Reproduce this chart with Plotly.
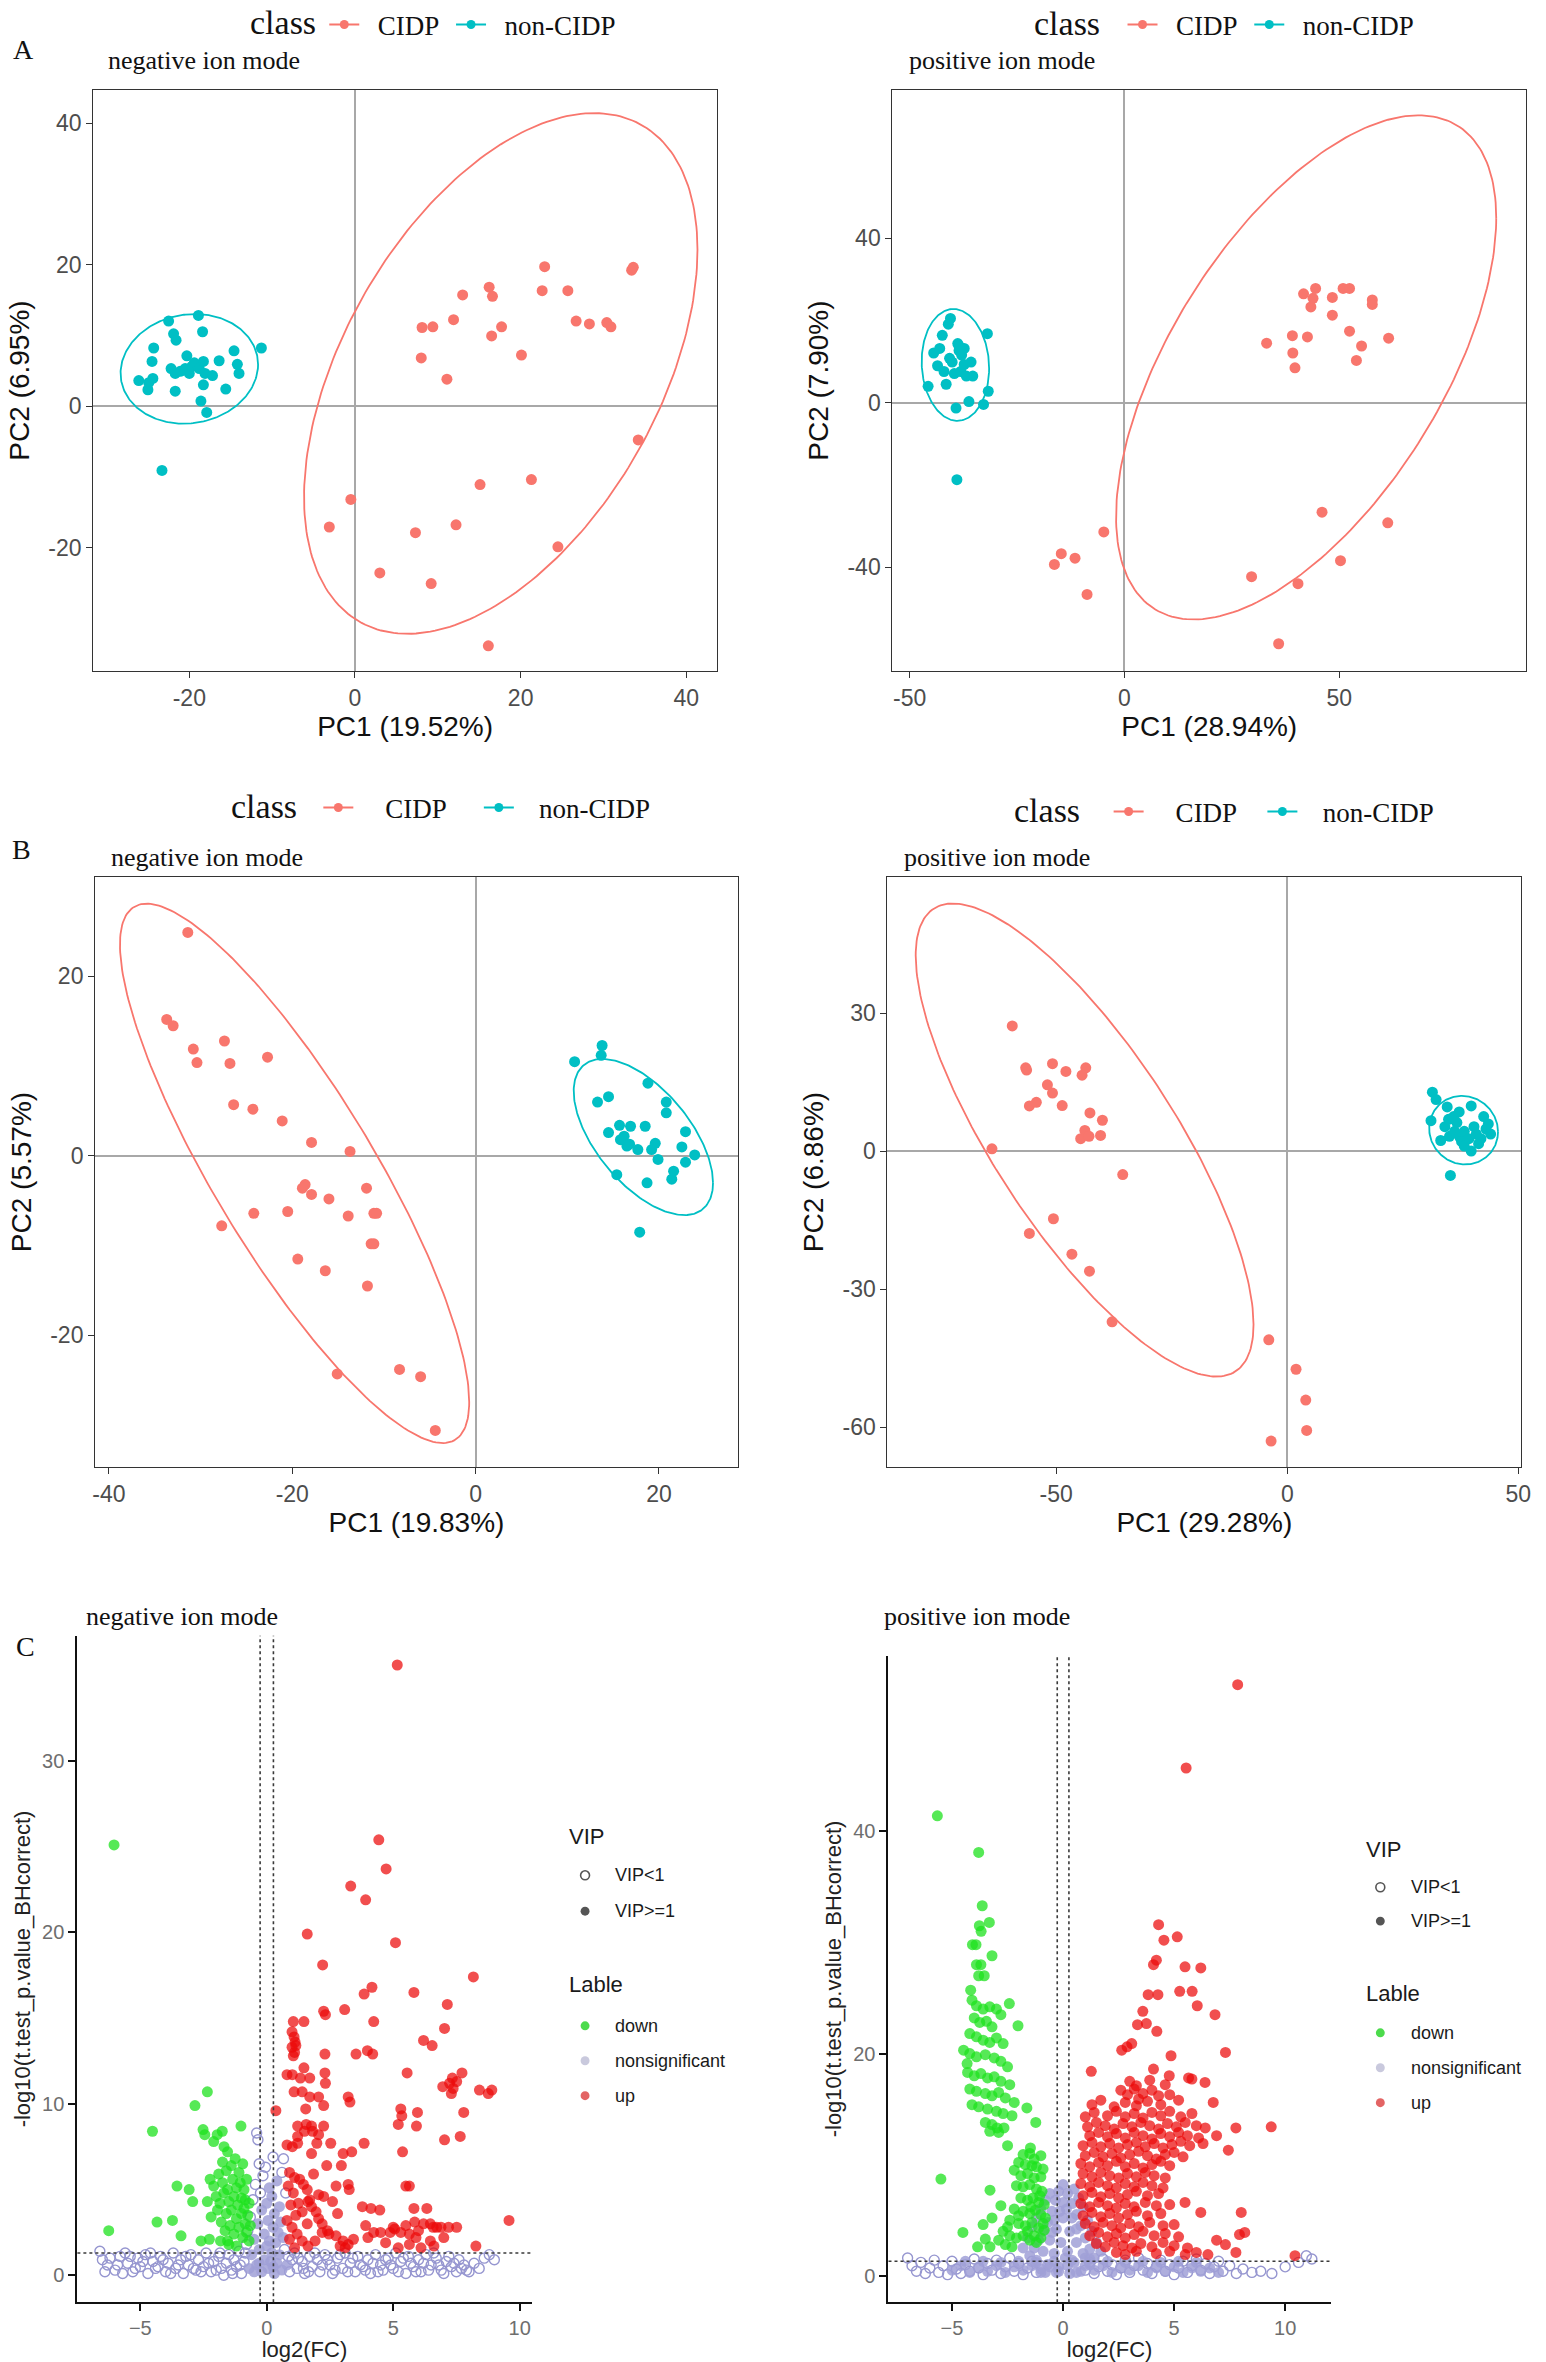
import numpy as np
import plotly.graph_objects as go

W, H = 1546, 2362

# ---------------- colours ----------------
CIDP_COL = "#F8766D"
NON_COL = "#00BFC4"
UP_COL = "rgba(236,10,10,0.72)"
DOWN_COL = "rgba(30,225,30,0.75)"
NS_COL = "rgb(150,150,208)"
NS_FILL = "rgba(160,160,215,0.85)"

CLASSES = ["CIDP", "non-CIDP"]

# ---------------- A: PCA negative ion mode ----------------
A_NEG_CIDP = [(22.9, 19.7), (33.4, 19.2), (33.6, 19.6), (16.2, 16.8), (16.6, 15.5), (13.0, 15.7), (22.6, 16.3),
              (25.7, 16.3), (11.9, 12.2), (8.1, 11.1), (9.4, 11.2), (16.5, 9.9), (17.7, 11.2), (26.7, 12.0),
              (28.3, 11.6), (30.4, 11.8), (30.9, 11.2), (8.0, 6.8), (20.1, 7.2), (11.1, 3.8), (34.2, -4.8),
              (15.1, -11.1), (21.3, -10.4), (-0.5, -13.2), (-3.1, -17.1), (7.3, -17.9), (12.2, -16.8),
              (24.5, -19.9), (3.0, -23.6), (9.2, -25.1), (16.1, -33.9)]
A_NEG_NON = [(-26.1, 3.6), (-24.9, 3.3), (-24.4, 3.9), (-25.0, 2.3), (-24.5, 6.3), (-24.3, 8.2), (-22.5, 12.0),
             (-21.9, 10.2), (-21.6, 9.3), (-22.2, 5.3), (-21.7, 4.6), (-21.7, 2.1), (-21.1, 4.9), (-20.5, 5.3),
             (-20.3, 7.1), (-20.0, 4.6), (-19.7, 5.6), (-19.4, 6.1), (-18.9, 12.8), (-18.4, 10.5), (-18.8, 5.3),
             (-18.3, 6.3), (-18.1, 4.6), (-18.3, 3.0), (-18.6, 0.7), (-17.9, -0.9), (-17.2, 4.3), (-16.4, 6.4),
             (-15.6, 2.4), (-14.6, 7.8), (-14.2, 5.9), (-14.0, 4.6), (-11.3, 8.2), (-23.3, -9.1)]
# ellipse: centre x, centre y, half-extent x, half-extent y, correlation
A_NEG_ELL = {"CIDP": (17.6, 4.6, 23.75, 36.8, 0.475), "non-CIDP": (-20.0, 5.25, 8.3, 7.75, 0.08)}

A_POS_CIDP = [(41.7, 26.5), (43.9, 25.4), (44.5, 27.8), (43.4, 23.3), (48.4, 25.6), (50.9, 27.8), (52.4, 27.8),
              (57.7, 25.0), (57.7, 23.9), (48.4, 21.3), (52.4, 17.4), (33.1, 14.5), (39.1, 16.3), (42.6, 16.0),
              (39.2, 12.1), (39.7, 8.5), (55.2, 13.8), (54.0, 10.3), (61.5, 15.7), (46.0, -26.6), (61.3, -29.2),
              (-4.8, -31.4), (-14.7, -36.7), (-11.5, -37.8), (-16.3, -39.3), (-8.7, -46.6), (29.6, -42.3),
              (40.4, -44.0), (50.3, -38.4), (35.9, -58.6)]
A_POS_NON = [(-45.7, 4.0), (-44.4, 12.1), (-43.5, 9.0), (-43.0, 13.2), (-42.4, 16.4), (-42.0, 7.6), (-41.5, 4.5),
             (-41.0, 19.1), (-40.5, 20.5), (-40.7, 10.8), (-40.1, 9.9), (-39.6, 7.1), (-39.2, -1.3), (-38.8, 14.4),
             (-38.5, 12.7), (-38.1, 7.6), (-37.9, 11.6), (-37.3, 9.3), (-36.8, 6.5), (-36.2, 0.3), (-35.7, 9.9),
             (-35.3, 6.5), (-32.8, -0.4), (-31.9, 16.8), (-31.7, 2.8), (-39.0, -18.7), (-38.5, 13.8), (-37.3, 13.2)]
A_POS_ELL = {"CIDP": (42.3, 8.6, 44.25, 61.3, 0.592), "non-CIDP": (-39.35, 9.2, 7.85, 13.6, -0.06)}

# ---------------- B: PCA ----------------
B_NEG_CIDP = [(-31.4, 24.9), (-33.7, 15.2), (-33.0, 14.5), (-30.8, 11.9), (-30.4, 10.4), (-27.4, 12.8), (-26.8, 10.3),
              (-22.7, 11.0), (-26.4, 5.7), (-24.3, 5.2), (-21.1, 3.9), (-17.9, 1.5), (-13.7, 0.5), (-18.6, -3.2),
              (-18.9, -3.6), (-17.9, -4.3), (-16.0, -4.8), (-11.9, -3.6), (-24.2, -6.4), (-20.5, -6.2), (-13.9, -6.7),
              (-11.1, -6.4), (-10.8, -6.4), (-27.7, -7.8), (-11.4, -9.8), (-11.1, -9.8), (-19.4, -11.5),
              (-16.4, -12.8), (-11.8, -14.5), (-15.1, -24.3), (-8.3, -23.8), (-6.0, -24.6), (-4.4, -30.6)]
B_NEG_NON = [(10.8, 10.5), (13.8, 12.3), (13.7, 11.2), (13.3, 6.0), (14.5, 6.6), (18.8, 8.1), (20.8, 6.0), (20.8, 4.8),
             (14.5, 2.6), (15.7, 3.4), (16.2, 2.2), (16.5, 1.1), (16.9, 3.3), (17.7, 0.7), (18.5, 3.3), (19.2, 0.7),
             (19.6, 1.4), (19.9, -0.4), (22.9, 2.7), (22.5, 1.0), (22.9, -0.7), (23.9, 0.1), (21.6, -1.7),
             (21.4, -2.6), (15.4, -2.1), (18.7, -3.0), (17.9, -8.5), (16.8, 1.3), (15.8, 1.8)]
B_NEG_ELL = {"CIDP": (-19.75, -1.95, 19.05, 30.05, -0.848), "non-CIDP": (18.3, 2.1, 7.6, 8.7, -0.587)}

B_POS_CIDP = [(-59.5, 27.2), (-56.6, 18.1), (-56.4, 17.6), (-50.8, 19.0), (-47.9, 17.3), (-43.6, 18.1), (-44.4, 16.5),
              (-51.9, 14.4), (-50.8, 12.6), (-55.8, 9.8), (-54.3, 10.6), (-48.7, 9.9), (-42.7, 8.3), (-40.0, 6.7),
              (-43.8, 4.5), (-44.7, 2.7), (-42.9, 3.2), (-40.4, 3.4), (-63.9, 0.5), (-35.6, -5.1), (-50.6, -14.7),
              (-55.8, -17.9), (-46.6, -22.4), (-42.8, -26.1), (-37.9, -37.1), (-4.0, -41.0), (1.9, -47.4),
              (4.0, -54.1), (4.2, -60.7), (-3.5, -63.0)]
B_POS_NON = [(31.4, 12.8), (32.2, 11.2), (31.1, 6.6), (35.3, -5.3), (39.8, 9.8), (34.1, 5.3), (35.1, 3.2), (36.2, 4.3),
             (37.2, 3.2), (38.3, 4.3), (37.7, 2.1), (36.7, 6.2), (39.3, 2.7), (40.4, 5.3), (40.9, 3.7), (39.8, 0.0),
             (41.9, 2.7), (43.0, 4.8), (44.0, 3.7), (42.5, 7.5), (34.9, 6.9), (36.0, 7.5), (33.2, 2.3), (38.3, 1.1),
             (41.4, 1.6), (34.6, 9.6), (37.2, 8.5), (43.5, 5.9)]
B_POS_ELL = {"CIDP": (-43.85, 2.4, 36.55, 51.4, -0.78), "non-CIDP": (38.15, 4.55, 7.45, 7.45, -0.05)}

# ---------------- C: volcano, negative ion mode ----------------
C_NEG_DOWN = [(-6.04, 25.1), (-6.25, 2.6), (-4.52, 8.4), (-4.34, 3.1), (-3.73, 3.2), (-3.55, 5.2), (-3.39, 2.3),
              (-3.07, 5.0), (-2.93, 4.3), (-2.84, 9.9), (-2.52, 8.5), (-2.45, 8.2), (-2.35, 10.7), (-2.27, 2.1),
              (-2.35, 4.3), (-2.24, 5.6), (-1.96, 8.2), (-1.76, 8.4), (-1.69, 7.5), (-1.83, 2.0), (-1.55, 2.0),
              (-1.02, 8.7), (-2.6, 2.0), (-2.1, 7.8), (-2.1, 5.2), (-2.0, 4.6), (-1.95, 3.8), (-1.9, 5.9),
              (-1.85, 4.2), (-1.8, 3.1), (-1.75, 5.4), (-1.7, 4.8), (-1.65, 2.6), (-1.6, 6.1), (-1.6, 3.6),
              (-1.55, 5.0), (-1.5, 4.3), (-1.45, 2.9), (-1.4, 6.4), (-1.4, 3.8), (-1.35, 5.6), (-1.3, 4.6),
              (-1.3, 2.4), (-1.25, 6.8), (-1.2, 5.1), (-1.2, 3.3), (-1.15, 4.1), (-1.1, 6.0), (-1.1, 2.8),
              (-1.05, 5.4), (-1.0, 4.5), (-1.0, 3.6), (-0.95, 6.5), (-0.95, 2.2), (-0.9, 5.0), (-0.9, 3.9),
              (-0.85, 4.4), (-0.85, 3.0), (-0.8, 5.6), (-0.8, 2.5), (-0.75, 3.5), (-0.7, 4.2), (-0.7, 2.0),
              (-0.65, 2.9), (-1.5, 1.8), (-1.2, 1.7), (-2.2, 3.4), (-1.75, 6.6), (-1.55, 7.2)]
C_NEG_UP = [(5.16, 35.6), (4.43, 25.4), (4.72, 23.7), (3.32, 22.7), (3.91, 21.9), (1.60, 19.9), (5.09, 19.4),
            (2.21, 18.1), (8.17, 17.4), (4.16, 16.8), (3.85, 16.4), (5.82, 16.5), (2.25, 15.4), (2.32, 15.2),
            (3.08, 15.5), (7.14, 15.8), (4.23, 14.8), (7.03, 14.4), (1.05, 14.8), (1.47, 14.8), (1.0, 14.2),
            (1.08, 13.9), (1.12, 13.6), (1.0, 13.3), (1.1, 13.0), (1.05, 12.8), (1.15, 13.4), (6.2, 13.7),
            (6.54, 13.4), (3.53, 12.9), (3.98, 13.1), (4.19, 12.9), (2.3, 12.9), (1.47, 12.1), (0.8, 11.7),
            (1.01, 11.7), (1.33, 11.5), (1.70, 11.5), (2.3, 11.8), (2.32, 11.2), (5.55, 11.8), (7.34, 11.5),
            (7.72, 11.8), (6.96, 11.0), (7.23, 11.2), (7.37, 10.9), (7.51, 11.3), (7.3, 10.6), (8.41, 10.8),
            (8.76, 10.6), (8.9, 10.8), (1.08, 10.7), (1.4, 10.7), (1.7, 10.4), (2.05, 10.4), (1.54, 9.7),
            (2.25, 9.9), (3.22, 10.4), (3.29, 10.1), (0.36, 9.6), (5.3, 9.7), (5.34, 9.3), (5.2, 8.8), (5.96, 9.5),
            (7.79, 9.5), (7.65, 8.1), (7.03, 7.9), (1.22, 8.7), (1.56, 8.8), (1.77, 8.7), (1.49, 8.4), (1.81, 8.4),
            (1.22, 8.1), (2.05, 8.2), (2.25, 8.7), (2.53, 7.7), (3.02, 7.1), (3.36, 7.2), (3.85, 7.7), (5.37, 7.2),
            (5.92, 8.7), (0.8, 7.6), (1.01, 7.5), (1.22, 7.7), (1.77, 7.1), (1.98, 7.7), (2.37, 6.4), (2.95, 6.4),
            (5.5, 5.2), (5.64, 5.2), (3.22, 5.3), (3.26, 5.0), (2.74, 5.2), (2.05, 4.7), (2.25, 4.6), (0.9, 6.0),
            (1.1, 5.7), (1.3, 5.6), (1.45, 5.3), (1.6, 5.0), (0.85, 5.2), (1.05, 4.8), (1.25, 4.2), (1.4, 3.7),
            (0.95, 4.1), (1.15, 3.5), (0.8, 3.2), (1.0, 2.8), (1.2, 2.4), (1.6, 3.0), (1.7, 4.4), (1.85, 5.9),
            (1.95, 3.7), (2.05, 3.3), (2.19, 3.0), (1.63, 4.3), (1.77, 4.0), (2.4, 2.6), (2.6, 4.3), (2.8, 3.6),
            (3.78, 4.0), (4.12, 3.9), (4.47, 3.8), (5.82, 3.9), (6.33, 3.9), (5.85, 3.1), (6.2, 3.0), (6.47, 3.0),
            (6.58, 2.8), (6.72, 2.8), (6.89, 2.8), (7.19, 2.8), (7.51, 2.8), (9.58, 3.2), (8.27, 1.7), (3.91, 2.9),
            (4.23, 2.5), (4.5, 2.5), (4.88, 2.5), (5.06, 2.7), (5.3, 2.5), (5.64, 2.4), (5.64, 1.8), (6.47, 2.0),
            (6.61, 1.7), (3.02, 2.0), (3.22, 1.8), (3.43, 2.1), (2.74, 2.3), (2.19, 2.5), (2.46, 2.4), (1.63, 1.7),
            (1.91, 2.0), (5.0, 2.8), (5.5, 2.9), (6.0, 2.6), (4.0, 2.2), (3.1, 1.6), (2.9, 1.7), (5.9, 2.2),
            (6.1, 1.6), (7.0, 2.2), (5.2, 1.6), (4.7, 1.9), (1.4, 2.0), (0.9, 2.1), (1.1, 1.6)]
C_NEG_NS_OPEN = [(-6.6, 1.4), (-6.5, 0.9), (-6.3, 0.6), (-6.0, 0.3), (-5.8, 1.1), (-5.6, 1.3), (-5.5, 0.7),
                 (-5.3, 0.2), (-5.1, 1.0), (-5.0, 0.5), (-4.8, 1.2), (-4.7, 0.1), (-4.5, 0.8), (-4.4, 0.4),
                 (-4.2, 1.1), (-4.0, 0.2), (-3.9, 0.7), (-3.7, 1.3), (-3.6, 0.4), (-3.4, 0.9), (-3.3, 0.1),
                 (-3.1, 0.6), (-3.0, 1.2), (-2.8, 0.3), (-2.7, 0.9), (-2.5, 0.5), (-2.4, 1.3), (-2.2, 0.2),
                 (-2.1, 0.8), (-1.9, 1.1), (-1.8, 0.4), (-1.7, 0.0), (-1.6, 0.7), (-1.5, 1.2), (-1.4, 0.3),
                 (-1.3, 0.9), (-1.2, 0.5), (-1.1, 1.4), (-1.0, 0.1), (-0.9, 0.8), (-0.8, 1.8), (-0.75, 2.6),
                 (-0.65, 3.4), (-0.55, 4.4), (-0.45, 5.3), (-0.4, 8.3), (-0.35, 7.9), (-0.3, 6.5), (-0.25, 4.8),
                 (-0.15, 5.8), (-0.05, 6.3), (0.25, 6.9), (0.6, 6.0), (0.66, 6.8), (0.75, 4.8), (0.7, 1.5),
                 (0.85, 1.1), (0.9, 0.2), (1.0, 0.9), (1.1, 1.3), (1.2, 0.4), (1.4, 0.8), (1.5, 0.1), (1.7, 1.1),
                 (1.8, 0.5), (2.0, 0.9), (2.1, 0.2), (2.3, 1.2), (2.5, 0.6), (2.6, 0.1), (2.8, 1.0), (3.0, 0.4),
                 (3.1, 1.3), (3.3, 0.7), (3.5, 0.2), (3.6, 1.1), (3.8, 0.5), (4.0, 0.9), (4.1, 0.1), (4.3, 1.2),
                 (4.5, 0.6), (4.6, 0.3), (4.8, 1.0), (5.0, 0.4), (5.1, 1.3), (5.3, 0.8), (5.5, 0.1), (5.6, 1.1),
                 (5.8, 0.5), (6.0, 0.9), (6.1, 0.2), (6.3, 1.2), (6.5, 0.6), (6.7, 1.0), (6.9, 0.3), (7.1, 0.8),
                 (7.3, 0.5), (7.5, 0.2), (7.7, 0.4), (7.9, 0.3), (8.2, 0.7), (8.6, 1.0), (8.8, 1.2),
                 (-6.4, 0.2), (-6.2, 1.0), (-5.9, 0.6), (-5.7, 0.1), (-5.4, 1.1), (-5.2, 0.4), (-4.9, 0.8),
                 (-4.6, 1.3), (-4.3, 0.5), (-4.1, 0.9), (-3.8, 0.1), (-3.5, 0.6), (-3.2, 1.1), (-2.9, 0.4),
                 (-2.6, 0.2), (-2.3, 0.7), (-2.0, 0.3), (-1.85, 1.3), (-1.35, 0.1), (-1.05, 0.6), (-0.85, 1.3),
                 (1.25, 1.0), (1.45, 0.4), (1.65, 0.2), (1.9, 1.3), (2.2, 0.6), (2.4, 0.9), (2.7, 0.3), (2.9, 1.2),
                 (3.2, 0.2), (3.4, 1.0), (3.7, 0.6), (3.9, 0.3), (4.2, 0.7), (4.4, 0.2), (4.7, 0.9), (4.9, 0.6),
                 (5.2, 0.2), (5.4, 1.0), (5.7, 0.7), (5.9, 0.2), (6.2, 0.7), (6.4, 0.3), (6.6, 1.3), (6.8, 0.6),
                 (7.0, 0.1), (7.2, 1.1), (7.4, 0.7), (7.6, 0.9), (7.8, 0.6), (8.0, 0.2), (8.4, 0.4), (9.0, 0.9)]
C_NEG_NS_FILL = [(-0.7, 0.4), (-0.6, 1.2), (-0.5, 2.1), (-0.4, 0.6), (-0.35, 3.0), (-0.3, 1.5), (-0.2, 0.2),
                 (-0.2, 3.8), (-0.1, 2.4), (-0.1, 0.9), (0.0, 1.7), (0.0, 4.2), (0.05, 0.4), (0.05, 3.2), (0.1, 5.1),
                 (0.1, 2.0), (0.15, 0.8), (0.2, 4.6), (0.2, 1.3), (0.25, 2.8), (0.3, 0.1), (0.3, 3.6), (0.35, 1.9),
                 (0.4, 5.5), (0.4, 0.7), (0.45, 2.5), (0.5, 4.0), (0.5, 1.2), (0.55, 3.1), (0.6, 0.3), (0.65, 2.2),
                 (0.8, 0.6), (-0.5, 0.2), (-0.3, 0.7), (0.25, 0.5)]

# ---------------- C: volcano, positive ion mode ----------------
C_POS_DOWN = [(-5.66, 41.4), (-3.80, 38.1), (-3.64, 33.3), (-3.32, 31.8), (-3.77, 31.5), (-3.69, 31.0), (-4.08, 29.8),
              (-3.92, 29.8), (-3.2, 28.8), (-3.9, 28.0), (-3.7, 28.0), (-3.8, 27.0), (-3.55, 27.0), (-4.16, 25.7),
              (-2.42, 24.5), (-4.1, 24.8), (-3.9, 24.3), (-3.6, 24.0), (-3.3, 24.2), (-3.0, 24.0), (-2.8, 23.5),
              (-4.0, 23.2), (-3.75, 22.8), (-3.45, 22.9), (-3.2, 22.4), (-2.03, 22.5), (-4.2, 21.8), (-3.9, 21.5),
              (-3.6, 21.2), (-3.3, 21.0), (-3.0, 21.4), (-2.7, 20.9), (-4.48, 20.3), (-4.2, 20.0), (-3.9, 19.7),
              (-3.5, 19.9), (-3.1, 19.6), (-2.8, 19.3), (-2.5, 18.8), (-4.32, 19.1), (-4.3, 18.3), (-4.0, 18.0),
              (-3.7, 18.2), (-3.4, 17.8), (-3.1, 17.9), (-2.8, 17.5), (-2.4, 17.2), (-4.2, 16.8), (-3.9, 16.6),
              (-3.5, 16.4), (-3.2, 16.2), (-2.9, 16.5), (-2.6, 16.0), (-2.2, 15.6), (-4.1, 15.4), (-3.8, 15.2),
              (-3.4, 15.0), (-3.0, 14.8), (-2.7, 14.6), (-2.3, 14.4), (-1.63, 15.1), (-3.5, 13.8), (-3.2, 13.6),
              (-2.97, 13.3), (-2.66, 13.3), (-2.9, 12.9), (-3.3, 13.0), (-1.23, 13.8), (-2.5, 11.7), (-1.47, 11.5),
              (-5.5, 8.7), (-4.51, 3.9), (-3.85, 2.6), (-3.29, 2.6), (-3.29, 7.7), (-2.0, 10.2), (-1.7, 10.0),
              (-1.4, 9.9), (-1.2, 9.8), (-1.9, 9.0), (-1.6, 9.2), (-1.3, 8.8), (-1.0, 8.9), (-2.1, 8.1), (-1.8, 8.0),
              (-1.5, 8.2), (-1.2, 7.8), (-0.95, 7.6), (-1.9, 7.0), (-1.6, 6.8), (-1.35, 7.0), (-1.1, 6.6),
              (-0.85, 6.4), (-2.2, 6.0), (-1.8, 5.8), (-1.5, 5.6), (-1.25, 5.9), (-1.0, 5.5), (-0.8, 5.2),
              (-2.4, 5.0), (-2.0, 4.7), (-1.7, 4.5), (-1.4, 4.8), (-1.1, 4.3), (-0.85, 4.1), (-2.7, 4.0),
              (-2.4, 3.6), (-2.1, 3.4), (-1.8, 3.6), (-1.5, 3.2), (-1.2, 3.0), (-2.9, 3.2), (-3.6, 4.6), (-3.2, 5.2),
              (-2.8, 6.3), (-3.5, 3.3), (-2.6, 2.8), (-2.3, 2.6), (-1.3, 10.5), (-1.0, 10.8), (-1.5, 11.0),
              (-1.8, 10.9), (-0.9, 9.6), (-2.2, 9.5), (-1.05, 7.2), (-1.45, 6.2), (-2.0, 5.4), (-1.6, 4.0),
              (-1.3, 3.6), (-1.0, 3.4), (-0.9, 4.7), (-2.5, 4.4)]
C_POS_UP = [(7.86, 53.2), (5.54, 45.7), (4.30, 31.6), (5.14, 30.5), (4.54, 30.2), (5.49, 27.8), (6.2, 27.7),
            (4.07, 28.0), (4.2, 28.4), (3.83, 25.3), (4.27, 25.3), (5.25, 25.6), (5.81, 25.6), (6.04, 24.3),
            (3.59, 23.8), (3.35, 22.6), (3.75, 22.7), (4.22, 22.0), (6.84, 23.5), (2.64, 20.3), (2.88, 20.6),
            (3.09, 20.9), (4.86, 19.8), (7.31, 20.1), (1.27, 18.4), (4.07, 18.6), (4.78, 18.0), (5.65, 17.8),
            (5.8, 17.7), (6.39, 17.4), (6.76, 15.6), (7.78, 13.3), (9.37, 13.4), (7.44, 11.3), (6.91, 12.6),
            (5.49, 6.6), (6.2, 5.7), (8.02, 5.7), (6.91, 3.2), (7.31, 2.8), (7.94, 3.7), (8.18, 3.9), (7.78, 2.1),
            (10.44, 1.8), (6.52, 1.9),
            (3.0, 17.5), (3.3, 17.1), (3.9, 17.6), (4.6, 17.2), (2.6, 16.7), (2.9, 16.3), (3.2, 16.8), (3.6, 16.4),
            (4.0, 16.7), (4.3, 16.2), (3.4, 15.9), (1.3, 15.4), (1.7, 15.8), (2.3, 15.2), (2.8, 15.6), (3.3, 15.3),
            (3.8, 15.7), (4.4, 15.4), (5.2, 15.8), (4.8, 16.3), (1.0, 14.3), (1.4, 14.7), (2.0, 14.4), (2.4, 14.8),
            (2.8, 14.3), (3.2, 14.6), (3.6, 14.2), (4.0, 14.7), (4.4, 14.4), (4.8, 14.8), (5.3, 14.3), (5.8, 14.6),
            (1.1, 13.4), (1.5, 13.8), (1.9, 13.5), (2.3, 13.2), (2.7, 13.7), (3.1, 13.4), (3.5, 13.8), (3.9, 13.5),
            (4.3, 13.2), (4.7, 13.7), (5.1, 13.4), (5.5, 13.8), (6.0, 13.5), (6.4, 13.3), (1.2, 12.6), (1.6, 12.9),
            (2.0, 12.5), (2.4, 12.8), (2.8, 12.4), (3.2, 12.9), (3.6, 12.6), (4.0, 12.3), (4.4, 12.8), (4.8, 12.5),
            (5.2, 12.9), (5.6, 12.6), (6.1, 12.4), (0.9, 11.7), (1.3, 12.0), (1.7, 11.6), (2.1, 11.9), (2.5, 11.5),
            (2.9, 11.8), (3.3, 12.0), (3.7, 11.6), (4.1, 11.9), (4.5, 11.5), (4.9, 11.8), (5.3, 12.1), (5.7, 11.7),
            (6.3, 11.9), (1.0, 10.8), (1.4, 11.1), (1.8, 10.7), (2.2, 11.0), (2.6, 10.6), (3.0, 10.9), (3.4, 11.2),
            (3.8, 10.8), (4.2, 10.5), (4.6, 10.9), (5.0, 11.1), (5.4, 10.7), (0.8, 10.1), (1.2, 9.8), (1.6, 10.2),
            (2.0, 9.9), (2.4, 10.3), (2.8, 9.8), (3.2, 10.1), (3.6, 9.7), (4.0, 10.0), (4.4, 10.3), (4.8, 9.9),
            (0.9, 9.2), (1.3, 8.9), (1.7, 9.3), (2.1, 9.0), (2.5, 8.8), (2.9, 9.2), (3.3, 8.9), (3.7, 9.3),
            (4.1, 9.0), (4.6, 8.8), (0.8, 8.3), (1.2, 8.0), (1.6, 8.4), (2.0, 8.1), (2.4, 7.9), (2.8, 8.3),
            (3.2, 8.0), (3.6, 8.4), (4.0, 8.1), (4.5, 7.9), (0.9, 7.2), (1.3, 7.5), (1.7, 7.1), (2.1, 7.4),
            (2.5, 7.0), (2.9, 7.3), (3.3, 7.6), (3.8, 7.2), (4.3, 7.4), (0.8, 6.5), (1.2, 6.2), (1.6, 6.6),
            (2.0, 6.3), (2.4, 6.1), (2.8, 6.5), (3.2, 6.2), (3.7, 6.6), (4.2, 6.3), (4.8, 6.4), (0.9, 5.4),
            (1.3, 5.7), (1.7, 5.3), (2.1, 5.6), (2.5, 5.2), (2.9, 5.5), (3.3, 5.8), (3.8, 5.4), (4.4, 5.6),
            (1.0, 4.7), (1.4, 4.4), (1.8, 4.8), (2.2, 4.5), (2.6, 4.3), (3.0, 4.7), (3.4, 4.4), (3.9, 4.8),
            (4.5, 4.5), (5.0, 4.6), (1.2, 3.6), (1.6, 3.9), (2.0, 3.5), (2.4, 3.8), (2.8, 3.4), (3.2, 3.7),
            (3.6, 4.0), (4.1, 3.6), (4.6, 3.8), (5.2, 3.5), (1.5, 2.9), (1.9, 2.6), (2.3, 3.0), (2.7, 2.7),
            (3.1, 2.5), (3.5, 2.9), (4.0, 2.6), (4.5, 3.0), (5.0, 2.7), (5.6, 2.5), (2.4, 2.1), (2.8, 1.9),
            (3.3, 2.2), (4.2, 2.0), (4.8, 2.2), (5.5, 1.9), (6.0, 2.1)]
C_POS_NS_OPEN = [(-7.0, 1.6), (-6.8, 0.9), (-6.6, 0.4), (-6.4, 1.2), (-6.2, 0.2), (-6.0, 0.7), (-5.8, 1.4),
                 (-5.6, 0.3), (-5.4, 0.9), (-5.2, 0.1), (-5.0, 1.3), (-4.8, 0.6), (-4.6, 0.2), (-4.4, 1.0),
                 (-4.2, 0.4), (-4.0, 1.5), (-3.8, 0.7), (-3.6, 0.1), (-3.4, 1.1), (-3.2, 0.5), (-3.0, 1.4),
                 (-2.8, 0.2), (-2.6, 0.8), (-2.4, 1.6), (-2.2, 0.4), (-2.0, 1.1), (-1.8, 0.1), (-1.6, 0.7),
                 (-1.4, 1.3), (-1.2, 0.3), (-1.0, 0.9), (1.0, 0.5), (1.2, 1.2), (1.4, 0.2), (1.6, 0.8), (1.8, 1.5),
                 (2.0, 0.4), (2.2, 1.0), (2.4, 0.1), (2.6, 0.7), (2.8, 1.4), (3.0, 0.3), (3.2, 0.9), (3.4, 1.6),
                 (3.6, 0.5), (3.8, 1.1), (4.0, 0.2), (4.2, 0.8), (4.4, 1.4), (4.6, 0.4), (4.8, 1.0), (5.0, 0.1),
                 (5.2, 0.7), (5.4, 1.3), (5.6, 0.3), (5.8, 0.9), (6.0, 1.5), (6.2, 0.5), (6.4, 1.1), (6.6, 0.2),
                 (6.8, 0.8), (7.0, 1.3), (7.2, 0.4), (7.5, 0.9), (7.8, 0.2), (8.1, 0.6), (8.5, 0.3), (8.9, 0.4),
                 (9.4, 0.2), (10.0, 0.8), (10.6, 1.2), (10.95, 1.8), (11.2, 1.5)]
C_POS_NS_FILL = [(-1.5, 1.8), (-1.3, 2.5), (-1.1, 3.2), (-0.9, 4.0), (-0.7, 4.8), (-0.5, 5.8), (-0.35, 6.8),
                 (-0.2, 7.6), (0.0, 8.2), (0.2, 7.4), (0.4, 6.5), (0.6, 5.5), (0.8, 4.5), (1.0, 3.4), (1.2, 2.4),
                 (1.4, 1.6), (-1.2, 1.2), (-0.9, 2.2), (-0.6, 3.2), (-0.3, 4.2), (0.0, 5.2), (0.3, 4.0), (0.6, 3.0),
                 (0.9, 2.0), (1.2, 1.0), (-0.7, 1.0), (-0.4, 2.0), (-0.1, 3.0), (0.2, 2.2), (0.5, 1.2), (-0.2, 0.8),
                 (0.1, 1.6), (0.0, 6.6), (-0.4, 5.0), (0.4, 5.2), (-0.8, 0.3), (0.8, 0.4), (0.3, 0.2), (-0.3, 0.3),
                 (-1.0, 0.6), (1.0, 1.6), (-0.5, 3.9), (0.6, 4.2), (-0.15, 5.8), (0.15, 6.0),
                 (-5.0, 0.5), (-4.6, 0.9), (-4.2, 0.3), (-3.8, 0.8), (-3.4, 0.4), (-3.0, 0.9), (-2.6, 0.3),
                 (-2.2, 0.8), (-1.8, 0.5), (-1.4, 0.9), (-1.0, 0.3), (-0.6, 0.8), (-0.2, 0.4), (0.2, 0.9), (0.6, 0.3),
                 (1.0, 0.9), (1.4, 0.5), (1.8, 0.9), (2.2, 0.3), (2.6, 0.8), (3.0, 0.5), (3.4, 0.9), (3.8, 0.3),
                 (4.2, 0.7), (4.6, 0.4), (5.0, 0.8), (5.4, 0.3), (5.8, 0.7), (6.2, 0.4), (6.6, 0.7), (7.0, 0.3),
                 (-4.4, 1.3), (-3.6, 1.3), (-2.8, 1.2), (-2.0, 1.3), (-1.2, 1.4), (-0.4, 1.3), (0.4, 1.4), (1.2, 1.5),
                 (2.0, 1.3), (2.8, 1.2), (3.6, 1.3), (4.4, 1.2), (5.2, 1.3), (6.0, 1.2),
                 (-1.8, 2.5), (-1.6, 3.4), (-1.4, 4.4), (-1.2, 5.2), (-1.0, 6.0), (-0.8, 6.8), (-0.6, 7.4),
                 (0.5, 7.8), (0.7, 7.0), (0.9, 6.2), (1.1, 5.0), (1.3, 4.0), (1.5, 3.0), (1.7, 2.2)]

FC_CUT = 0.263      # |log2(FC)| threshold (dashed verticals)
P_CUT = 1.301       # -log10(0.05) (dashed horizontal)

# ---------------- tick values ----------------
A_NEG_XT, A_NEG_YT = [-20, 0, 20, 40], [-20, 0, 20, 40]
A_POS_XT, A_POS_YT = [-50, 0, 50], [-40, 0, 40]
B_NEG_XT, B_NEG_YT = [-40, -20, 0, 20], [-20, 0, 20]
B_POS_XT, B_POS_YT = [-50, 0, 50], [-60, -30, 0, 30]
C_NEG_XT, C_NEG_YT = [-5, 0, 5, 10], [0, 10, 20, 30]
C_POS_XT, C_POS_YT = [-5, 0, 5, 10], [0, 20, 40]

SERIF = "Liberation Serif"
SANS = "Liberation Sans"
NB = "\u00a0"


def fx(p):
    return p / W


def fy(p):
    return 1 - p / H


def ellipse(params, n=241):
    cx, cy, sx, sy, r = params
    t = np.linspace(0, 2 * np.pi, n)
    return cx + sx * np.cos(t), cy + sy * (r * np.cos(t) + np.sqrt(1 - r * r) * np.sin(t))


fig = go.Figure()
layout = {}
annotations = []
shapes = []


def text(s, x, y, size, family=SERIF, xanchor="left", color="#111111"):
    annotations.append(dict(text=s, x=fx(x), y=fy(y), xref="paper", yref="paper", xanchor=xanchor,
                            yanchor="middle", showarrow=False, font=dict(family=family, size=size, color=color)))


pca_panels = [
    # id, box(l,t,r,b), xrange, yrange, xticks, yticks, xtitle, ytitle, cidp, non, ell, legend,
    # (class-title x, title y, legend x, legend y, pad before/after CIDP, pad before non-CIDP)
    (1, (91, 84, 720, 667), [-31.6, 43.7], [-37.5, 44.7], A_NEG_XT, A_NEG_YT, "PC1 (19.52%)", "PC2 (6.95%)",
     A_NEG_CIDP, A_NEG_NON, A_NEG_ELL, "legend", (247, 17, 324, 19, 2, 1, 2)),
    (2, (897, 84, 1536, 667), [-54.0, 93.5], [-65.3, 76.1], A_POS_XT, A_POS_YT, "PC1 (28.94%)", "PC2 (7.90%)",
     A_POS_CIDP, A_POS_NON, A_POS_ELL, "legend2", (1038, 18, 1129, 19, 2, 1, 2)),
    (3, (93, 873, 741, 1465), [-41.5, 28.6], [-34.7, 31.1], B_NEG_XT, B_NEG_YT, "PC1 (19.83%)", "PC2 (5.57%)",
     B_NEG_CIDP, B_NEG_NON, B_NEG_ELL, "legend3", (228, 803, 318, 804, 4, 4, 3)),
    (4, (892, 873, 1531, 1465), [-86.5, 50.6], [-68.7, 59.6], B_POS_XT, B_POS_YT, "PC1 (29.28%)", "PC2 (6.86%)",
     B_POS_CIDP, B_POS_NON, B_POS_ELL, "legend4", (1018, 807, 1115, 808, 4, 3, 3)),
]

for (i, box, xr, yr, xt, yt, xtitle, ytitle, cidp, non, ell, legname, legcfg) in pca_panels:
    l, t, r, b = box
    xa = "x" if i == 1 else f"x{i}"
    ya = "y" if i == 1 else f"y{i}"
    common = dict(showline=True, mirror=True, linecolor="#333333", linewidth=1.3, ticks="outside", ticklen=6,
                  tickcolor="#333333", tickwidth=1.2, showgrid=False, zeroline=True, zerolinecolor="#A8A8A8",
                  zerolinewidth=1.6, tickfont=dict(family=SANS, size=23, color="#4D4D4D"))
    layout["xaxis" if i == 1 else f"xaxis{i}"] = dict(
        domain=[fx(l), fx(r)], range=xr, anchor=ya, tickvals=xt, ticktext=[str(v) for v in xt],
        title=dict(text=xtitle, font=dict(family=SANS, size=28, color="#111111"), standoff=6), **common)
    layout["yaxis" if i == 1 else f"yaxis{i}"] = dict(
        domain=[fy(b), fy(t)], range=yr, anchor=xa, tickvals=yt, ticktext=[str(v) for v in yt],
        title=dict(text=ytitle, font=dict(family=SANS, size=28, color="#111111"), standoff=10), **common)
    for cls, pts, col in (("CIDP", cidp, CIDP_COL), ("non-CIDP", non, NON_COL)):
        ex, ey = ellipse(ell[cls])
        fig.add_trace(go.Scatter(x=ex, y=ey, mode="lines", line=dict(color=col, width=1.8), xaxis=xa, yaxis=ya,
                                 showlegend=False, hoverinfo="skip"))
        fig.add_trace(go.Scatter(x=[p[0] for p in pts], y=[p[1] for p in pts], mode="markers",
                                 marker=dict(color=col, size=11), xaxis=xa, yaxis=ya, showlegend=False,
                                 name=cls))
    tx, ty, lx, ly, p1, p2, p3 = legcfg
    names = {"CIDP": NB * p1 + "CIDP" + NB * p2, "non-CIDP": NB * p3 + "non-CIDP"}
    for cls, col in (("CIDP", CIDP_COL), ("non-CIDP", NON_COL)):
        fig.add_trace(go.Scatter(x=[None], y=[None], mode="lines+markers", name=names[cls],
                                 line=dict(color=col, width=2), marker=dict(color=col, size=9),
                                 xaxis=xa, yaxis=ya, legend=legname, showlegend=True))
    layout[legname] = dict(orientation="h", x=fx(lx), xanchor="left", y=fy(ly), yanchor="middle",
                           bgcolor="rgba(0,0,0,0)", borderwidth=0,
                           font=dict(family=SERIF, size=27, color="#111111"), itemsizing="trace")
    text("class", tx, ty, 34)

# ---------------- volcano panels ----------------
volc_panels = [
    (5, (75, 1634, 533, 2302), [-7.49, 10.47], [-1.57, 37.3], C_NEG_XT, C_NEG_YT,
     C_NEG_NS_OPEN, C_NEG_NS_FILL, C_NEG_DOWN, C_NEG_UP),
    (6, (893, 1654, 1339, 2302), [-7.86, 12.05], [-2.38, 55.8], C_POS_XT, C_POS_YT,
     C_POS_NS_OPEN, C_POS_NS_FILL, C_POS_DOWN, C_POS_UP),
]
for (i, box, xr, yr, xt, yt, ns_open, ns_fill, down, up) in volc_panels:
    l, t, r, b = box
    xa, ya = f"x{i}", f"y{i}"
    common = dict(showline=True, mirror=False, linecolor="#111111", linewidth=2.2, ticks="outside", ticklen=7,
                  tickcolor="#111111", tickwidth=1.6, showgrid=False, zeroline=False,
                  tickfont=dict(family=SANS, size=20, color="#6E6E6E"))
    layout[f"xaxis{i}"] = dict(domain=[fx(l), fx(r)], range=xr, anchor=ya, tickvals=xt,
                               title=dict(text="log2(FC)", font=dict(family=SANS, size=22, color="#222222"),
                                          standoff=3), **common)
    layout[f"yaxis{i}"] = dict(domain=[fy(b), fy(t)], range=yr, anchor=xa, tickvals=yt,
                               title=dict(text="-log10(t.test_p.value_BHcorrect)",
                                          font=dict(family=SANS, size=22, color="#222222"), standoff=5),
                               **common)
    fig.add_trace(go.Scatter(x=[p[0] for p in ns_open], y=[p[1] for p in ns_open], mode="markers",
                             marker=dict(symbol="circle-open", color=NS_COL, size=10, line=dict(width=1.4)),
                             xaxis=xa, yaxis=ya, showlegend=False, name="nonsignificant"))
    fig.add_trace(go.Scatter(x=[p[0] for p in ns_fill], y=[p[1] for p in ns_fill], mode="markers",
                             marker=dict(color=NS_FILL, size=11), xaxis=xa, yaxis=ya, showlegend=False,
                             name="nonsignificant"))
    fig.add_trace(go.Scatter(x=[p[0] for p in down], y=[p[1] for p in down], mode="markers",
                             marker=dict(color=DOWN_COL, size=11), xaxis=xa, yaxis=ya, showlegend=False,
                             name="down"))
    fig.add_trace(go.Scatter(x=[p[0] for p in up], y=[p[1] for p in up], mode="markers",
                             marker=dict(color=UP_COL, size=11), xaxis=xa, yaxis=ya, showlegend=False,
                             name="up"))
    for xv in (-FC_CUT, FC_CUT):
        shapes.append(dict(type="line", xref=xa, yref=f"{ya} domain", x0=xv, x1=xv, y0=0, y1=1,
                           line=dict(color="#3A3A3A", width=1.6, dash="dot")))
    shapes.append(dict(type="line", xref=f"{xa} domain", yref=ya, x0=0, x1=1, y0=P_CUT, y1=P_CUT,
                       line=dict(color="#3A3A3A", width=1.6, dash="dot")))

# ---------------- text annotations ----------------
text("A", 8, 44, 28)
text("B", 7, 846, 28)
text("C", 11, 1645, 28)
text("negative ion mode", 104, 55, 26)
text("positive ion mode", 912, 55, 26)
text("negative ion mode", 107, 854, 26)
text("positive ion mode", 907, 854, 26)
text("negative ion mode", 82, 1615, 26)
text("positive ion mode", 886, 1615, 26)

# volcano legends (drawn as text + glyphs)
VOLC_LEG = [
    # title x, marker x, text x, y positions: VIP, VIP<1, VIP>=1, Lable, down, nonsig, up
    (569, 587, 615, [1835, 1874, 1910, 1984, 2025, 2060, 2095]),
    (1373, 1389, 1418, [1848, 1886, 1920, 1993, 2032, 2067, 2102]),
]
for tx, mx, txx, ys in VOLC_LEG:
    text("VIP", tx, ys[0], 22, SANS, color="#1A1A1A")
    text("VIP<1", txx, ys[1], 18, SANS, color="#1A1A1A")
    text("VIP>=1", txx, ys[2], 18, SANS, color="#1A1A1A")
    text("Lable", tx, ys[3], 22, SANS, color="#1A1A1A")
    text("down", txx, ys[4], 18, SANS, color="#1A1A1A")
    text("nonsignificant", txx, ys[5], 18, SANS, color="#1A1A1A")
    text("up", txx, ys[6], 18, SANS, color="#1A1A1A")
    rr = 4.5
    glyphs = [(ys[1], "rgba(0,0,0,0)", "#555555", 1.6), (ys[2], "#555555", "#555555", 0),
              (ys[4], "#4CDB4C", "#4CDB4C", 0), (ys[5], "#C9C9DD", "#C9C9DD", 0), (ys[6], "#E36464", "#E36464", 0)]
    for gy, fill, lc, lw in glyphs:
        shapes.append(dict(type="circle", xref="paper", yref="paper", x0=fx(mx - rr), x1=fx(mx + rr),
                           y0=fy(gy + rr), y1=fy(gy - rr), fillcolor=fill, line=dict(color=lc, width=lw)))

fig.update_layout(width=W, height=H, autosize=False, margin=dict(l=0, r=0, t=0, b=0),
                  paper_bgcolor="white", plot_bgcolor="white", shapes=shapes, annotations=annotations,
                  **layout)
PIN = ("document.documentElement.style.margin='0';document.body.style.margin='0';"
       "document.body.style.padding='0';var d=document.getElementById('{plot_id}');"
       "d.style.position='absolute';d.style.left='0px';d.style.top='0px';")
fig.write_html("out.html", include_plotlyjs=True, config={"displayModeBar": False}, post_script=PIN)
